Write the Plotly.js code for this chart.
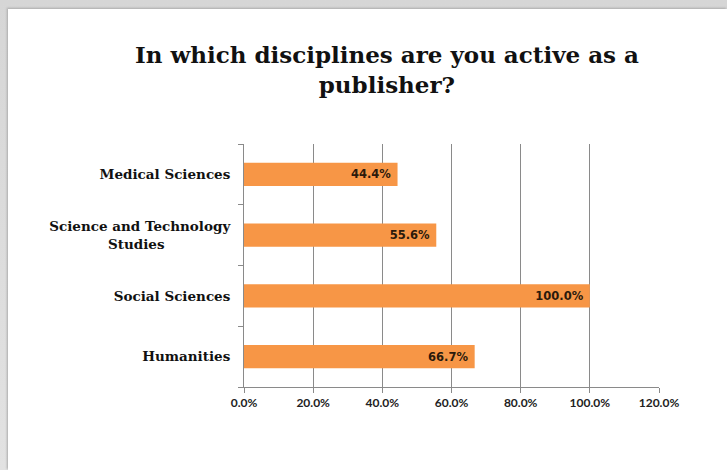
<!DOCTYPE html>
<html>
<head>
<meta charset="utf-8">
<script src="https://cdn.plot.ly/plotly-3.0.1.min.js"></script>
<style>
  html, body { margin: 0; padding: 0; }
  body { width: 727px; height: 470px; overflow: hidden;
         background: linear-gradient(#d6d6d6, #e2e2e2); position: relative; }
  #frame { position: absolute; left: 8px; top: 9px; width: 719px; height: 461px;
           background: #fff; box-shadow: -1px -1px 2px #aaa; }
  #chart { position: absolute; left: 0; top: 0; width: 719px; height: 461px; }
</style>
</head>
<body>
<div id="frame"><div id="chart"></div></div>
<script>
const categories = ['Medical Sciences', 'Science and Technology Studies', 'Social Sciences', 'Humanities'];
const tickLabels = ['Medical Sciences',
  'Science and Technology<br>Studies\u00a0\u00a0\u00a0\u00a0\u00a0\u00a0\u00a0\u00a0\u00a0\u00a0\u00a0\u00a0\u00a0\u00a0',
  'Social Sciences', 'Humanities'];
const values = [44.4, 55.6, 100.0, 66.7];
const xTicks = [0, 20, 40, 60, 80, 100, 120];

const trace = {
  type: 'bar',
  orientation: 'h',
  y: categories,
  x: values,
  width: 0.38,
  marker: { color: '#f79646' },
  texttemplate: '<b>%{x:.1f}%</b>\u00a0',
  textposition: 'inside',
  insidetextanchor: 'end',
  textfont: { family: '"DejaVu Sans", sans-serif', size: 11.5, color: '#2b1a0c' },
  cliponaxis: false,
  hoverinfo: 'none'
};

const layout = {
  width: 719, height: 461,
  margin: { l: 236, r: 68, t: 135, b: 83 },
  paper_bgcolor: 'rgba(0,0,0,0)',
  plot_bgcolor: '#fff',
  showlegend: false,
  title: {
    text: '<b>In which disciplines are you active as a<br>publisher?</b>',
    font: { family: '"DejaVu Serif", serif', size: 23, color: '#111' },
    x: 0.527, xanchor: 'center', xref: 'container',
    y: 0.882, yanchor: 'middle', yref: 'container'
  },
  xaxis: {
    range: [0, 120],
    tickvals: xTicks,
    ticktext: xTicks.map(v => '<b>' + v.toFixed(1) + '%</b>'),
    showgrid: true, gridcolor: '#8a8a8a', gridwidth: 1,
    showline: true, linecolor: '#8a8a8a', linewidth: 1,
    ticks: 'outside', ticklen: 5, tickcolor: '#8a8a8a',
    tickfont: { family: 'Lato, "Liberation Sans", sans-serif', size: 12, color: '#222' },
    zeroline: false, fixedrange: true
  },
  yaxis: {
    type: 'category',
    autorange: 'reversed',
    tickvals: categories,
    ticktext: tickLabels.map(t => '<b>' + t + '</b>'),
    tickson: 'boundaries',
    ticks: 'outside', ticklen: 5, tickcolor: '#8a8a8a',
    showline: true, linecolor: '#8a8a8a', linewidth: 1,
    showgrid: false, zeroline: false,
    tickfont: { family: '"DejaVu Serif", serif', size: 13.5, color: '#111' },
    ticklabelstandoff: 10,
    fixedrange: true
  },
  bargap: 0.62
};

Plotly.newPlot('chart', [trace], layout, { displayModeBar: false, staticPlot: true });
</script>
</body>
</html>
